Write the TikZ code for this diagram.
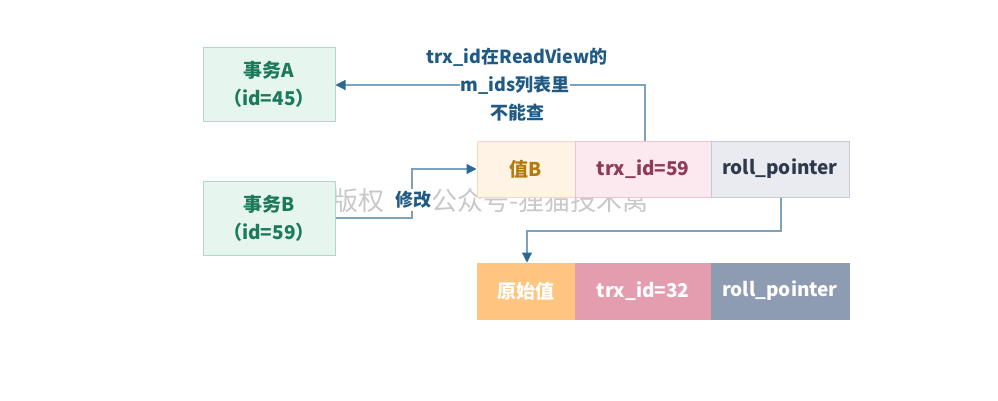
\documentclass[tikz,border=0pt]{standalone}
\usepackage{fontspec}
\setmainfont{Noto Sans CJK SC}
\usetikzlibrary{arrows.meta}
\definecolor{gfill}{HTML}{E7F5EF}
\definecolor{gdraw}{HTML}{A9DCC7}
\definecolor{gtext}{HTML}{1C7A5B}
\definecolor{linec}{HTML}{7DA2BE}
\definecolor{tipc}{HTML}{2A6896}
\definecolor{labc}{HTML}{1F5A85}
\definecolor{ofill}{HTML}{FFF3E6}
\definecolor{odraw}{HTML}{FAD8B0}
\definecolor{otext}{HTML}{B37A0C}
\definecolor{pfill}{HTML}{FBE9EF}
\definecolor{pdraw}{HTML}{F0C2CF}
\definecolor{ptext}{HTML}{8E3A58}
\definecolor{sfill}{HTML}{E9EBF0}
\definecolor{sdraw}{HTML}{C4C9D3}
\definecolor{stext}{HTML}{2D3A4E}
\definecolor{o2}{HTML}{FFC47F}
\definecolor{p2}{HTML}{E39DAF}
\definecolor{s2}{HTML}{8E9CB1}
\definecolor{wm}{HTML}{C8C8C8}
\begin{document}
\begin{tikzpicture}[x=1pt,y=-1pt,
  txbox/.style={draw=gdraw,fill=gfill,line width=1pt,text=gtext,font=\fontsize{19}{28}\selectfont\bfseries,align=center,minimum width=132pt,minimum height=74pt,inner sep=0pt},
  cell/.style={line width=1pt,font=\fontsize{19}{22}\selectfont\bfseries,minimum height=56pt,inner sep=0pt},
  conn/.style={draw=linec,line width=1.2pt,-{Triangle[length=10pt,width=10pt,color=tipc]}},
  lab/.style={text=labc,font=\fontsize{18}{22}\selectfont\bfseries,inner sep=1pt}]
\useasboundingbox (0,0) rectangle (998,400);
% watermark
\node[text=wm,font=\fontsize{26}{28}\selectfont,anchor=west,inner sep=0pt] (wm1) at (332,201) {版权};
\node[text=wm,font=\fontsize{26}{28}\selectfont,anchor=west,inner sep=0pt] (wm2) at (431,201) {公众号-狸猫技术窝};
% transactions
\node[txbox] (A) at (269,84) {事务A\\（id=45）};
\node[txbox] (B) at (269,218) {事务B\\（id=59）};
% top row
\node[cell,draw=odraw,fill=ofill,text=otext,minimum width=98pt] (vb) at (526,169) {值B};
\node[cell,draw=pdraw,fill=pfill,text=ptext,minimum width=136pt] (t59) at (643,169) {trx\_id=59};
\node[cell,draw=sdraw,fill=sfill,text=stext,minimum width=138pt] (r1) at (780,169) {roll\_pointer};
% bottom row
\node[cell,draw=o2,fill=o2,text=white,minimum width=98pt] (orig) at (526,291) {原始值};
\node[cell,draw=p2,fill=p2,text=white,minimum width=136pt] (t32) at (643,291) {trx\_id=32};
\node[cell,draw=s2,fill=s2,text=white,minimum width=138pt] (r2) at (780,291) {roll\_pointer};
% connectors
\coordinate (c1) at (645,85);
\draw[conn] (t59.north -| c1) -- (c1) -- (A.east |- c1);
\node[lab] (l1a) at (517,57) {trx\_id在ReadView的};
\node[lab,fill=white] (l1b) at (515,85) {m\_ids列表里};
\node[lab] (l1c) at (517,113) {不能查};
\coordinate (c2) at (412,218);
\draw[conn] (B.east |- c2) -- (c2) -- (412,169) -- (vb.west);
\node[lab,fill=white,inner sep=2pt] (l2) at (413,200) {修改};
\coordinate (c3) at (781,231);
\coordinate (c4) at (527,231);
\draw[conn] (r1.south -| c3) -- (c3) -- (c4) -- (orig.north -| c4);
\end{tikzpicture}
\end{document}
